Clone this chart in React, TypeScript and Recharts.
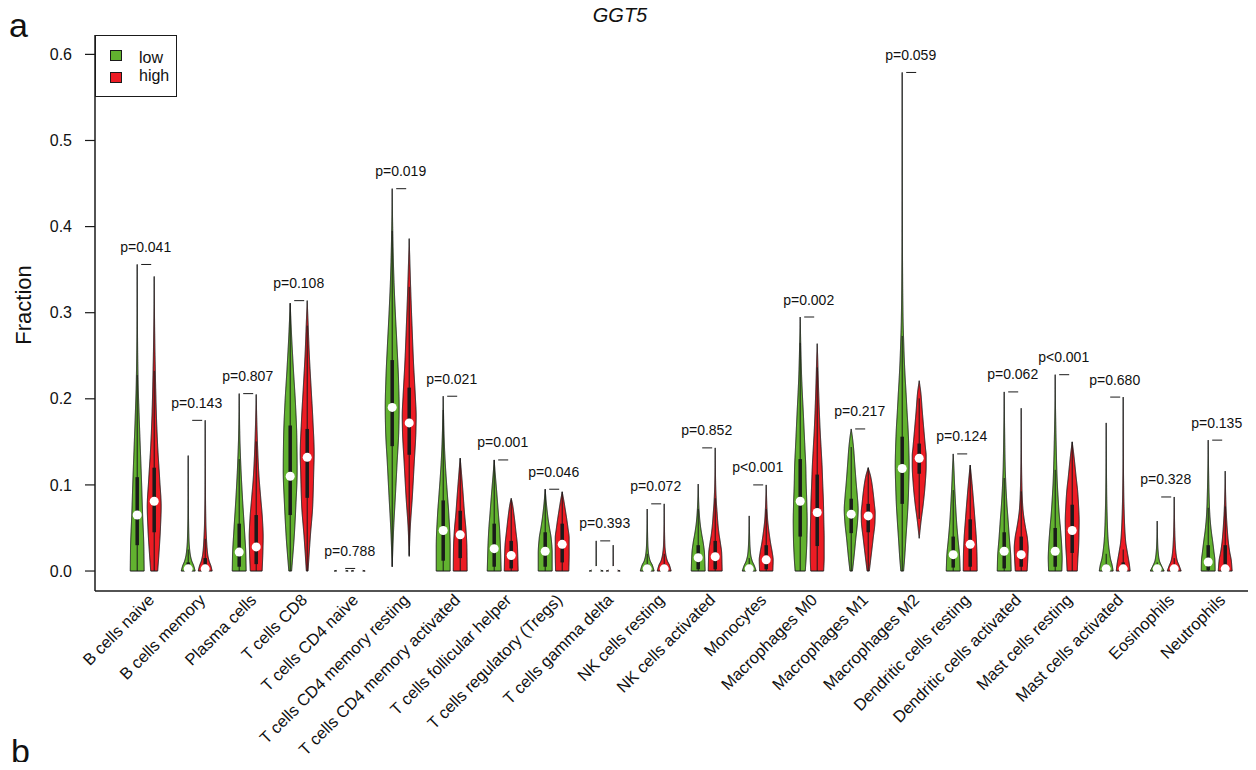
import React from 'react';
import { ComposedChart, Bar, XAxis, YAxis, Legend } from 'recharts';

const FONT = '"Liberation Sans", Arial, Helvetica, sans-serif';
const GREEN = '#62B22F';
const RED = '#EC1C24';
const INK = '#1a1a1a';

const categories = [
  'B cells naive', 'B cells memory', 'Plasma cells', 'T cells CD8', 'T cells CD4 naive',
  'T cells CD4 memory resting', 'T cells CD4 memory activated', 'T cells follicular helper',
  'T cells regulatory (Tregs)', 'T cells gamma delta', 'NK cells resting', 'NK cells activated',
  'Monocytes', 'Macrophages M0', 'Macrophages M1', 'Macrophages M2', 'Dendritic cells resting',
  'Dendritic cells activated', 'Mast cells resting', 'Mast cells activated', 'Eosinophils', 'Neutrophils',
];

const groupNames = ['low', 'high'];

const pLabels = [
  'p=0.041', 'p=0.143', 'p=0.807', 'p=0.108', 'p=0.788', 'p=0.019', 'p=0.021', 'p=0.001',
  'p=0.046', 'p=0.393', 'p=0.072', 'p=0.852', 'p<0.001', 'p=0.002', 'p=0.217', 'p=0.059',
  'p=0.124', 'p=0.062', 'p<0.001', 'p=0.680', 'p=0.328', 'p=0.135',
];

const yTicks = [0, 0.1, 0.2, 0.3, 0.4, 0.5, 0.6];

const lowMax = [0.356, 0.134, 0.206, 0.311, 0.003, 0.444, 0.203, 0.129, 0.095, 0.035, 0.072, 0.101, 0.064, 0.295, 0.165, 0.579, 0.136, 0.208, 0.228, 0.172, 0.058, 0.152];
const highMax = [0.342, 0.175, 0.205, 0.314, 0.003, 0.386, 0.131, 0.0845, 0.092, 0.030, 0.078, 0.143, 0.100, 0.264, 0.120, 0.221, 0.123, 0.189, 0.150, 0.202, 0.086, 0.116];

const lowMedian = [0.065, 0.0025, 0.022, 0.110, 0.0005, 0.190, 0.047, 0.026, 0.023, 0.0005, 0.0025, 0.0155, 0.0025, 0.081, 0.066, 0.119, 0.019, 0.023, 0.023, 0.0025, 0.0025, 0.0105];
const highMedian = [0.081, 0.0025, 0.028, 0.132, 0.0005, 0.172, 0.042, 0.018, 0.031, 0.0005, 0.0025, 0.0167, 0.013, 0.068, 0.064, 0.131, 0.031, 0.019, 0.047, 0.0025, 0.0025, 0.0025];

const lowQ1 = [0.030, 0, 0.005, 0.065, 0, 0.145, 0.012, 0.005, 0.005, 0, 0, 0.002, 0, 0.040, 0.044, 0.078, 0.004, 0.003, 0.005, 0, 0, 0.001];
const lowQ3 = [0.109, 0.010, 0.055, 0.169, 0, 0.245, 0.082, 0.055, 0.045, 0, 0.008, 0.030, 0.006, 0.130, 0.084, 0.156, 0.040, 0.045, 0.050, 0.008, 0.004, 0.030];
const highQ1 = [0.045, 0, 0.008, 0.085, 0, 0.135, 0.015, 0.003, 0.010, 0, 0, 0.002, 0.002, 0.029, 0.045, 0.113, 0.005, 0.005, 0.021, 0, 0, 0];
const highQ3 = [0.120, 0.015, 0.065, 0.165, 0, 0.213, 0.070, 0.035, 0.055, 0, 0.008, 0.035, 0.030, 0.112, 0.078, 0.148, 0.060, 0.040, 0.077, 0.010, 0.006, 0.030];

// density profiles: [value, relative density]
const lowDensity: number[][][] = [
  [[0, 1], [0.03, 0.95], [0.065, 0.78], [0.105, 0.62], [0.14, 0.46], [0.18, 0.28], [0.22, 0.13], [0.27, 0.05], [0.356, 0]],
  [[0, 1], [0.006, 0.8], [0.012, 0.5], [0.02, 0.28], [0.035, 0.12], [0.06, 0.05], [0.1, 0.02], [0.134, 0]],
  [[0, 1], [0.02, 0.95], [0.045, 0.78], [0.085, 0.47], [0.125, 0.22], [0.16, 0.08], [0.206, 0]],
  [[0, 0.2], [0.04, 0.58], [0.077, 0.82], [0.116, 1], [0.155, 0.95], [0.194, 0.76], [0.233, 0.47], [0.27, 0.22], [0.295, 0.08], [0.311, 0]],
  [[0, 1], [0.0015, 0.3], [0.003, 0]],
  [[0.005, 0], [0.048, 0.2], [0.086, 0.45], [0.125, 0.7], [0.164, 0.95], [0.19, 1], [0.222, 0.91], [0.26, 0.7], [0.3, 0.45], [0.338, 0.25], [0.377, 0.12], [0.41, 0.05], [0.444, 0]],
  [[0, 1], [0.028, 1], [0.067, 0.8], [0.086, 0.63], [0.106, 0.45], [0.125, 0.3], [0.145, 0.18], [0.165, 0.1], [0.203, 0]],
  [[0, 1], [0.028, 0.9], [0.048, 0.78], [0.067, 0.6], [0.086, 0.42], [0.106, 0.22], [0.118, 0.1], [0.129, 0]],
  [[0, 1], [0.021, 1], [0.038, 0.86], [0.05, 0.62], [0.06, 0.43], [0.07, 0.28], [0.081, 0.14], [0.095, 0]],
  [[0, 1], [0.002, 0.35], [0.004, 0.08], [0.007, 0.02], [0.035, 0]],
  [[0, 1], [0.007, 0.73], [0.012, 0.42], [0.02, 0.2], [0.03, 0.1], [0.05, 0.04], [0.072, 0]],
  [[0, 1], [0.021, 0.9], [0.033, 0.72], [0.043, 0.5], [0.054, 0.3], [0.064, 0.18], [0.078, 0.08], [0.101, 0]],
  [[0, 1], [0.006, 0.75], [0.012, 0.42], [0.02, 0.2], [0.035, 0.08], [0.064, 0]],
  [[0, 0.73], [0.016, 0.86], [0.0375, 0.97], [0.058, 1], [0.079, 0.95], [0.1, 0.86], [0.122, 0.8], [0.143, 0.68], [0.164, 0.56], [0.185, 0.44], [0.206, 0.31], [0.227, 0.2], [0.256, 0.1], [0.295, 0]],
  [[0, 0.18], [0.016, 0.4], [0.0375, 0.66], [0.058, 0.92], [0.071, 1], [0.088, 0.87], [0.1, 0.74], [0.122, 0.53], [0.143, 0.34], [0.155, 0.18], [0.165, 0]],
  [[0, 0.2], [0.016, 0.36], [0.0375, 0.53], [0.058, 0.7], [0.079, 0.85], [0.1, 0.94], [0.122, 1], [0.143, 0.95], [0.164, 0.85], [0.185, 0.7], [0.206, 0.56], [0.227, 0.41], [0.248, 0.29], [0.27, 0.2], [0.29, 0.13], [0.33, 0.07], [0.4, 0.03], [0.5, 0.01], [0.579, 0]],
  [[0, 1], [0.016, 0.93], [0.0375, 0.69], [0.058, 0.48], [0.079, 0.33], [0.1, 0.2], [0.12, 0.1], [0.136, 0]],
  [[0, 1], [0.016, 0.95], [0.0375, 0.75], [0.058, 0.57], [0.079, 0.38], [0.1, 0.24], [0.122, 0.14], [0.164, 0.06], [0.208, 0]],
  [[0, 0.95], [0.015, 1], [0.0266, 0.95], [0.046, 0.79], [0.0655, 0.58], [0.085, 0.42], [0.1045, 0.29], [0.124, 0.21], [0.1435, 0.15], [0.163, 0.1], [0.2, 0.03], [0.228, 0]],
  [[0, 1], [0.007, 0.85], [0.015, 0.6], [0.023, 0.45], [0.034, 0.3], [0.046, 0.21], [0.0655, 0.13], [0.09, 0.07], [0.13, 0.03], [0.172, 0]],
  [[0, 1], [0.006, 0.63], [0.012, 0.32], [0.019, 0.18], [0.03, 0.08], [0.058, 0]],
  [[0, 1], [0.012, 0.97], [0.0227, 0.82], [0.034, 0.65], [0.046, 0.45], [0.058, 0.3], [0.069, 0.21], [0.085, 0.14], [0.105, 0.08], [0.152, 0]],
];

const highDensity: number[][][] = [
  [[0, 0.5], [0.02, 0.68], [0.05, 0.9], [0.075, 1], [0.105, 0.8], [0.145, 0.5], [0.185, 0.3], [0.225, 0.18], [0.26, 0.1], [0.3, 0.04], [0.342, 0]],
  [[0, 1], [0.006, 0.82], [0.012, 0.55], [0.02, 0.35], [0.035, 0.2], [0.055, 0.1], [0.09, 0.04], [0.175, 0]],
  [[0, 0.85], [0.02, 0.95], [0.04, 1], [0.06, 0.9], [0.085, 0.65], [0.11, 0.4], [0.14, 0.22], [0.17, 0.1], [0.205, 0]],
  [[0, 0.12], [0.04, 0.45], [0.077, 0.8], [0.116, 0.94], [0.136, 1], [0.175, 0.82], [0.213, 0.56], [0.252, 0.3], [0.29, 0.12], [0.314, 0]],
  [[0, 1], [0.0015, 0.3], [0.003, 0]],
  [[0.017, 0], [0.048, 0.14], [0.086, 0.45], [0.125, 0.72], [0.164, 0.97], [0.18, 1], [0.203, 0.88], [0.242, 0.62], [0.28, 0.43], [0.319, 0.25], [0.358, 0.1], [0.386, 0]],
  [[0, 1], [0.028, 0.96], [0.048, 0.83], [0.067, 0.62], [0.086, 0.45], [0.106, 0.26], [0.12, 0.12], [0.131, 0]],
  [[0, 1], [0.028, 0.9], [0.048, 0.65], [0.067, 0.38], [0.078, 0.18], [0.0845, 0]],
  [[0, 0.95], [0.021, 1], [0.038, 1], [0.05, 0.83], [0.06, 0.66], [0.07, 0.47], [0.081, 0.25], [0.092, 0]],
  [[0, 1], [0.002, 0.35], [0.004, 0.08], [0.007, 0.02], [0.030, 0]],
  [[0, 1], [0.007, 0.75], [0.012, 0.45], [0.02, 0.22], [0.03, 0.1], [0.05, 0.04], [0.078, 0]],
  [[0, 1], [0.021, 0.93], [0.033, 0.74], [0.043, 0.55], [0.054, 0.4], [0.067, 0.28], [0.081, 0.16], [0.1, 0.07], [0.12, 0.03], [0.143, 0]],
  [[0, 0.95], [0.013, 1], [0.021, 0.88], [0.033, 0.62], [0.048, 0.36], [0.06, 0.2], [0.075, 0.1], [0.1, 0]],
  [[0, 0.93], [0.016, 1], [0.0375, 1], [0.058, 0.95], [0.079, 0.9], [0.1, 0.8], [0.122, 0.7], [0.143, 0.56], [0.164, 0.42], [0.185, 0.31], [0.206, 0.22], [0.227, 0.14], [0.248, 0.07], [0.264, 0]],
  [[0, 0.16], [0.016, 0.4], [0.0375, 0.71], [0.058, 0.98], [0.067, 1], [0.079, 0.87], [0.1, 0.57], [0.11, 0.35], [0.12, 0]],
  [[0.038, 0], [0.058, 0.27], [0.079, 0.6], [0.1, 0.85], [0.122, 1], [0.134, 1], [0.143, 0.9], [0.164, 0.67], [0.185, 0.45], [0.206, 0.25], [0.221, 0]],
  [[0, 1], [0.016, 0.98], [0.0375, 0.88], [0.058, 0.7], [0.079, 0.5], [0.1, 0.28], [0.113, 0.13], [0.123, 0]],
  [[0, 0.85], [0.015, 0.95], [0.0266, 1], [0.038, 0.89], [0.05, 0.63], [0.0616, 0.4], [0.073, 0.24], [0.093, 0.12], [0.13, 0.04], [0.189, 0]],
  [[0, 0.73], [0.015, 0.82], [0.03, 0.93], [0.046, 0.98], [0.058, 1], [0.077, 0.91], [0.093, 0.78], [0.108, 0.58], [0.124, 0.38], [0.136, 0.22], [0.15, 0]],
  [[0, 1], [0.007, 0.9], [0.015, 0.74], [0.023, 0.57], [0.034, 0.36], [0.046, 0.25], [0.0655, 0.15], [0.09, 0.08], [0.13, 0.03], [0.202, 0]],
  [[0, 1], [0.006, 0.73], [0.012, 0.44], [0.019, 0.28], [0.03, 0.16], [0.046, 0.08], [0.086, 0]],
  [[0, 1], [0.012, 0.88], [0.0227, 0.64], [0.034, 0.45], [0.046, 0.32], [0.058, 0.22], [0.07, 0.14], [0.09, 0.06], [0.116, 0]],
];

const rows = categories.map((name, i) => ({
  name,
  p: pLabels[i],
  lowMax: lowMax[i],
  highMax: highMax[i],
  pairMax: Math.max(lowMax[i], highMax[i]),
  low: { max: lowMax[i], median: lowMedian[i], q1: lowQ1[i], q3: lowQ3[i], density: lowDensity[i] },
  high: { max: highMax[i], median: highMedian[i], q1: highQ1[i], q3: highQ3[i], density: highDensity[i] },
}));

function monotone(knots: number[][]) {
  const n = knots.length;
  const xs = knots.map((k) => k[0]);
  const ys = knots.map((k) => k[1]);
  const h: number[] = [];
  const d: number[] = [];
  for (let k = 0; k < n - 1; k++) {
    h.push(xs[k + 1] - xs[k]);
    d.push((ys[k + 1] - ys[k]) / (xs[k + 1] - xs[k]));
  }
  const m: number[] = new Array(n).fill(0);
  m[0] = d[0];
  m[n - 1] = d[n - 2];
  for (let k = 1; k < n - 1; k++) {
    if (d[k - 1] * d[k] <= 0) m[k] = 0;
    else {
      const w1 = 2 * h[k] + h[k - 1];
      const w2 = h[k] + 2 * h[k - 1];
      m[k] = (w1 + w2) / (w1 / d[k - 1] + w2 / d[k]);
    }
  }
  return (x: number) => {
    if (x <= xs[0]) return ys[0];
    if (x >= xs[n - 1]) return ys[n - 1];
    let k = 0;
    while (k < n - 2 && x > xs[k + 1]) k++;
    const t = (x - xs[k]) / h[k];
    const t2 = t * t;
    const t3 = t2 * t;
    const v = (2 * t3 - 3 * t2 + 1) * ys[k] + (t3 - 2 * t2 + t) * h[k] * m[k] + (-2 * t3 + 3 * t2) * ys[k + 1] + (t3 - t2) * h[k] * m[k + 1];
    return Math.max(0, Math.min(1.02, v));
  };
}

const makeViolin = (side: 'low' | 'high', color: string) => (props: any) => {
  const { x, y, width, height, payload } = props;
  if (!payload || x == null || y == null) return <g />;
  const stat = payload[side];
  const top = Math.min(y, y + height);
  const bottom = Math.max(y, y + height);
  const pix = (v: number) => bottom - ((bottom - top) * v) / stat.max;
  const cx = x + width / 2;
  const hw = width * 0.41;
  const knots: number[][] = stat.density;
  const f = monotone(knots);
  const v0 = knots[0][0];
  const v1 = knots[knots.length - 1][0];
  const steps = Math.max(6, Math.ceil((pix(v0) - pix(v1)) / 0.5));
  const left: string[] = [];
  const right: string[] = [];
  for (let j = 0; j <= steps; j++) {
    const v = v0 + ((v1 - v0) * j) / steps;
    const r = f(v) * hw;
    const py = pix(v);
    left.push(`${(cx - r).toFixed(2)},${py.toFixed(2)}`);
    right.push(`${(cx + r).toFixed(2)},${py.toFixed(2)}`);
  }
  const d = `M${left.join(' L')} L${right.reverse().join(' L')} Z`;
  const iqr = stat.q3 - stat.q1;
  const upper = Math.min(stat.q3 + 1.5 * iqr, v1);
  const lower = Math.max(stat.q1 - 1.5 * iqr, v0);
  const out: any[] = [
    <path key="v" d={d} fill={color} stroke={INK} strokeWidth={1} strokeLinejoin="round" />,
  ];
  if (upper > lower) {
    out.push(<line key="w" x1={cx} x2={cx} y1={pix(lower)} y2={pix(upper)} stroke={INK} strokeWidth={1} />);
  }
  if (iqr > 0) {
    out.push(<rect key="b" x={cx - 1.75} width={3.5} y={pix(stat.q3)} height={pix(stat.q1) - pix(stat.q3)} fill={INK} />);
  }
  out.push(<circle key="m" cx={cx} cy={pix(stat.median)} r={4.5} fill="#ffffff" />);
  if (side === 'high') {
    const pc = x; // pair centre = boundary between the two violins
    const ly = pix(payload.pairMax);
    out.push(<line key="br" x1={pc - 4.5} x2={pc + 5.5} y1={ly} y2={ly} stroke={INK} strokeWidth={1} />);
    out.push(
      <text key="pt" x={pc} y={ly - 12.5} textAnchor="middle" fontSize={14} fill="#111" fontFamily={FONT}>
        {payload.p}
      </text>,
    );
  }
  return <g>{out}</g>;
};

const LowViolin = makeViolin('low', GREEN);
const HighViolin = makeViolin('high', RED);

const XTick = (props: any) => {
  const { x, y, payload } = props;
  const ax = x + 6;
  const ay = y + 6;
  return (
    <text x={ax} y={ay} dy="0.35em" textAnchor="end" transform={`rotate(-45, ${ax}, ${ay})`} fontSize={16.5} fill="#111" fontFamily={FONT}>
      {payload.value}
    </text>
  );
};

const FractionLabel = (props: any) => {
  const vb = props.viewBox || { x: 45, y: 35, width: 50, height: 556 };
  const lx = vb.x - 14;
  const ly = vb.y + vb.height / 2 - 8;
  return (
    <text x={lx} y={ly} transform={`rotate(-90, ${lx}, ${ly})`} textAnchor="middle" fontSize={22} fill="#111" fontFamily={FONT}>
      Fraction
    </text>
  );
};

const LegendBox = (props: any) => {
  const items = (props.payload || []) as any[];
  const ordered = groupNames.map((g) => items.find((it) => it.value === g)).filter(Boolean);
  const tops = [15, 37];
  const textTops = [14.8, 32.5];
  return (
    <div style={{ width: 82, height: 62, border: `1px solid ${INK}`, boxSizing: 'border-box', background: '#fff', position: 'relative', fontFamily: FONT, fontSize: 16, color: '#111' }}>
      {ordered.map((it: any, i: number) => (
        <React.Fragment key={it.value}>
          <div style={{ position: 'absolute', left: 14, top: tops[i] - 1, width: 12, height: 11, background: it.color, border: `1px solid ${INK}`, boxSizing: 'border-box' }} />
          <div style={{ position: 'absolute', left: 43, top: textTops[i] - 1, lineHeight: '16px', whiteSpace: 'nowrap' }}>{it.value}</div>
        </React.Fragment>
      ))}
    </div>
  );
};

const DOMAIN: [number, number] = [-0.0232, 0.6225];

export default function App() {
  return (
    <div style={{ position: 'relative', width: 1256, height: 770, margin: -8, background: '#fff', overflow: 'hidden' }}>
      <ComposedChart
        width={1256}
        height={770}
        data={rows}
        margin={{ top: 35, right: 5, bottom: 0, left: 45 }}
        barGap={0}
        style={{ fontFamily: FONT }}
      >
        <XAxis
          dataKey="name"
          type="category"
          interval={0}
          height={179}
          padding={{ left: 24.7, right: 9.3 }}
          tickLine={false}
          tickSize={0}
          tickMargin={0}
          tick={<XTick />}
          axisLine={{ stroke: INK, strokeWidth: 1.5 }}
        />
        <XAxis xAxisId="frame" dataKey="name" orientation="top" height={0} tick={false} tickLine={false} axisLine={{ stroke: INK, strokeWidth: 1.5 }} />
        <YAxis
          type="number"
          domain={DOMAIN}
          ticks={yTicks}
          allowDataOverflow
          width={50}
          tickSize={10}
          tickMargin={13}
          tickFormatter={(v: number) => v.toFixed(1)}
          tick={{ fontSize: 16, fill: '#111', fontFamily: FONT }}
          tickLine={{ stroke: INK, strokeWidth: 1.2 }}
          axisLine={{ stroke: INK, strokeWidth: 1.5 }}
          label={{ content: <FractionLabel /> }}
        />
        <YAxis yAxisId="frame" orientation="right" type="number" domain={DOMAIN} width={0} tick={false} tickLine={false} axisLine={{ stroke: INK, strokeWidth: 1.5 }} />
        <Legend
          layout="horizontal"
          verticalAlign="middle"
          align="center"
          content={<LegendBox />}
          wrapperStyle={{ position: 'absolute', left: 95, top: 35, width: 82, height: 62 }}
        />
        <Bar name="low" dataKey={(d: any) => [0, d.lowMax]} fill={GREEN} barSize={17} shape={LowViolin} isAnimationActive={false} />
        <Bar name="high" dataKey={(d: any) => [0, d.highMax]} fill={RED} barSize={17} shape={HighViolin} isAnimationActive={false} />
      </ComposedChart>
      <div style={{ position: 'absolute', left: 0, width: 1240, top: 5, textAlign: 'center', fontFamily: FONT, fontSize: 20, fontStyle: 'italic', lineHeight: '20px', color: '#111' }}>GGT5</div>
      <div style={{ position: 'absolute', left: 9, top: 8, fontFamily: FONT, fontSize: 34, lineHeight: '34px', color: '#111' }}>a</div>
      <div style={{ position: 'absolute', left: 11, top: 734, fontFamily: FONT, fontSize: 34, lineHeight: '34px', color: '#111' }}>b</div>
    </div>
  );
}
